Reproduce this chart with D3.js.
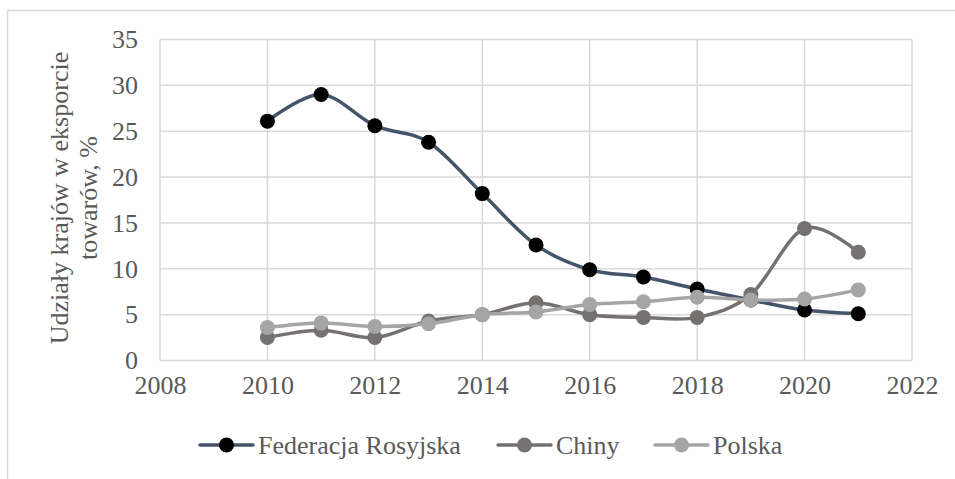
<!DOCTYPE html>
<html>
<head>
<meta charset="utf-8">
<script src="https://cdn.jsdelivr.net/npm/d3@7"></script>
<style>
  html, body { margin: 0; padding: 0; background: #fff; }
  svg { display: block; }
</style>
</head>
<body>
<svg id="chart" width="955" height="479"></svg>
<script>
const years = [2010, 2011, 2012, 2013, 2014, 2015, 2016, 2017, 2018, 2019, 2020, 2021];
const russia = [26.1, 29.0, 25.6, 23.8, 18.2, 12.6, 9.9, 9.1, 7.8, 6.6, 5.5, 5.1];
const china  = [2.5, 3.3, 2.5, 4.3, 5.0, 6.3, 5.0, 4.7, 4.7, 7.2, 14.4, 11.8];
const poland = [3.6, 4.1, 3.7, 4.0, 5.0, 5.3, 6.1, 6.4, 6.9, 6.6, 6.7, 7.7];
const seriesNames = ["Federacja Rosyjska", "Chiny", "Polska"];
const xTicks = [2008, 2010, 2012, 2014, 2016, 2018, 2020, 2022];
const yTicks = [0, 5, 10, 15, 20, 25, 30, 35];
const yTitle = ["Udziały krajów w eksporcie", "towarów, %"];

const series = [
  { name: seriesNames[0], values: russia, line: "#44546a", marker: "#000000" },
  { name: seriesNames[1], values: china,  line: "#767171", marker: "#767171" },
  { name: seriesNames[2], values: poland, line: "#a5a5a5", marker: "#a5a5a5" }
];

const FONT = "'Liberation Serif', serif";
const svg = d3.select("#chart");
const grid = "#d9d9d9";
const fs = 26;

// outer chart border
svg.append("rect").attr("x", 7.5).attr("y", 10.5).attr("width", 960).attr("height", 480)
  .attr("fill", "none").attr("stroke", grid).attr("stroke-width", 1.5);

const x = d3.scaleLinear().domain([2008, 2022]).range([160, 912]);
const y = d3.scaleLinear().domain([0, 35]).range([360.5, 39.5]);

// gridlines
svg.append("g").selectAll("line").data(yTicks).join("line")
  .attr("x1", x(2008)).attr("x2", x(2022))
  .attr("y1", d => y(d)).attr("y2", d => y(d))
  .attr("stroke", grid).attr("stroke-width", 1.5);
svg.append("g").selectAll("line").data(xTicks).join("line")
  .attr("x1", d => x(d)).attr("x2", d => x(d))
  .attr("y1", y(0)).attr("y2", y(35))
  .attr("stroke", grid).attr("stroke-width", 1.5);

function styleText(sel) {
  sel.style("font-family", FONT).style("font-size", fs + "px").style("fill", "#595959");
}

// axes (labels only)
const yAxis = svg.append("g").attr("transform", `translate(${x(2008)},0)`)
  .call(d3.axisLeft(y).tickValues(yTicks).tickSize(0).tickPadding(22));
yAxis.select(".domain").remove();
yAxis.attr("font-family", null).attr("font-size", null);
styleText(yAxis.selectAll("text"));

const xAxis = svg.append("g").attr("transform", `translate(0,${y(0)})`)
  .call(d3.axisBottom(x).tickValues(xTicks).tickFormat(d3.format("d")).tickSize(0).tickPadding(15));
xAxis.select(".domain").remove();
xAxis.attr("font-family", null).attr("font-size", null);
styleText(xAxis.selectAll("text"));

// y title
const yt = svg.append("text")
  .attr("transform", `translate(68,${(y(0) + y(35)) / 2 - 2}) rotate(-90)`)
  .attr("text-anchor", "middle");
styleText(yt);
yt.append("tspan").attr("x", 0).attr("dy", 0).text(yTitle[0]);
yt.append("tspan").attr("x", 0).attr("dy", 29).text(yTitle[1]);

// lines
const lineGen = d3.line()
  .x((d, i) => x(years[i]))
  .y(d => y(d))
  .curve(d3.curveCatmullRom.alpha(0));

series.forEach(s => {
  svg.append("path").datum(s.values)
    .attr("d", lineGen).attr("fill", "none")
    .attr("stroke", s.line).attr("stroke-width", 3.5)
    .attr("stroke-linejoin", "round").attr("stroke-linecap", "round");
  svg.append("g").selectAll("circle").data(s.values).join("circle")
    .attr("cx", (d, i) => x(years[i])).attr("cy", d => y(d))
    .attr("r", 7.5).attr("fill", s.marker);
});

// legend
const legendX = [200, 498, 655];
const ly = 445;
series.forEach((s, i) => {
  const g = svg.append("g").attr("transform", `translate(${legendX[i]},${ly})`);
  g.append("line").attr("x1", 0).attr("x2", 53).attr("y1", 0).attr("y2", 0)
    .attr("stroke", s.line).attr("stroke-width", 3.5).attr("stroke-linecap", "round");
  g.append("circle").attr("cx", 26.5).attr("cy", 0).attr("r", 7.5).attr("fill", s.marker);
  styleText(g.append("text").attr("x", 58).attr("y", 8.5).text(s.name));
});
</script>
</body>
</html>
